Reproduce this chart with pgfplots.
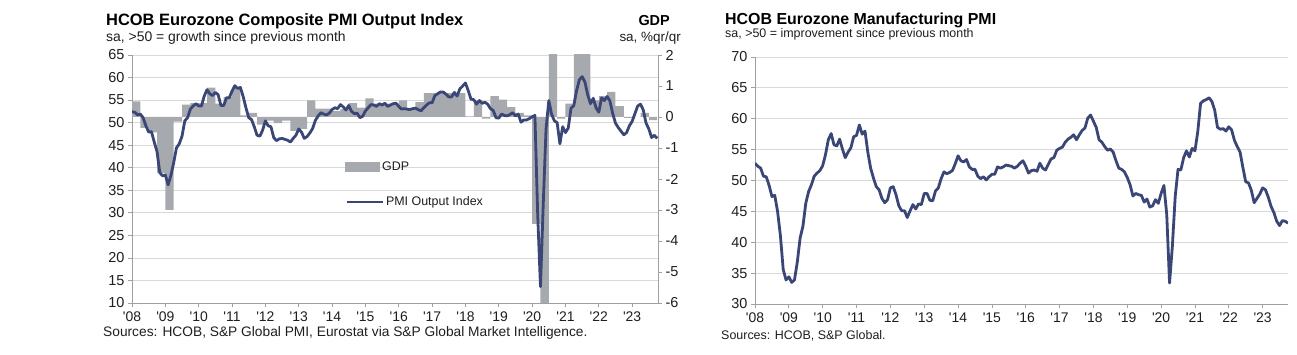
\documentclass[border=0pt]{standalone}
\usepackage{pgfplots}
\usepackage{pgfplotstable}
\pgfplotsset{compat=1.18}
\usepackage{fontspec}
\setmainfont{Liberation Sans}
\newcommand{\fs}[1]{\fontsize{#1}{#1}\selectfont}
\definecolor{pminavy}{RGB}{58,70,118}
\definecolor{gdpgray}{RGB}{166,169,173}
\definecolor{gridgray}{RGB}{217,217,217}
\definecolor{axgray}{RGB}{160,160,160}
\definecolor{labgray}{RGB}{30,30,30}

% Composite PMI Output Index, monthly Jan 2008 - Oct 2023
\pgfplotstableread[row sep=\\]{
v\\
52.4\\52.3\\51.7\\51.9\\51.1\\49.3\\47.9\\48.0\\45.7\\43.6\\38.9\\38.2\\
38.4\\36.2\\38.3\\41.1\\44.4\\45.3\\47.0\\50.4\\51.1\\53.0\\53.7\\54.2\\
53.7\\53.7\\55.9\\57.3\\56.4\\56.0\\56.7\\56.2\\53.8\\53.8\\55.5\\55.5\\
57.0\\58.2\\57.6\\57.8\\55.8\\53.3\\51.1\\50.7\\49.1\\47.2\\47.0\\48.3\\
50.4\\49.3\\49.1\\46.7\\46.0\\46.4\\46.5\\46.3\\46.1\\45.7\\46.5\\47.2\\
48.6\\47.9\\46.5\\46.9\\47.7\\48.7\\50.5\\51.5\\52.2\\51.9\\51.7\\52.1\\
52.9\\53.3\\53.1\\54.0\\53.5\\52.8\\53.8\\52.5\\52.0\\52.1\\51.1\\51.4\\
52.6\\53.3\\54.0\\53.9\\53.6\\54.2\\53.9\\54.3\\53.6\\53.9\\54.2\\54.3\\
53.6\\53.0\\53.1\\53.0\\52.9\\53.1\\53.2\\52.9\\52.6\\53.3\\53.9\\54.4\\
54.4\\56.0\\56.4\\56.8\\56.8\\56.3\\55.7\\55.7\\56.7\\55.9\\57.5\\58.1\\
58.8\\57.1\\55.2\\55.1\\54.1\\54.9\\54.3\\54.5\\54.1\\53.1\\52.7\\51.1\\
51.0\\51.9\\51.6\\51.5\\51.8\\52.2\\51.5\\51.9\\50.1\\50.6\\50.6\\50.9\\
51.3\\51.6\\29.7\\13.6\\31.9\\48.5\\54.9\\51.9\\50.4\\50.0\\45.3\\49.1\\
47.8\\48.8\\53.2\\53.8\\57.1\\59.5\\60.2\\59.0\\56.2\\54.2\\55.4\\53.3\\
52.3\\55.5\\54.9\\55.8\\54.8\\52.0\\49.9\\48.9\\48.1\\47.3\\47.8\\49.3\\
50.3\\52.0\\53.7\\54.1\\52.8\\49.9\\48.6\\46.7\\47.2\\46.5\\
}\comp

% GDP, %q/q, 2008Q1 - 2023Q3 (last row closes the final interval)
\pgfplotstableread[row sep=\\]{
v\\
0.50\\-0.35\\-0.50\\-1.80\\
-3.00\\-0.15\\0.40\\0.45\\
0.45\\0.95\\0.43\\0.65\\
0.95\\0.05\\0.13\\-0.25\\
-0.12\\-0.20\\-0.12\\-0.45\\
-0.38\\0.54\\0.27\\0.27\\
0.20\\0.25\\0.45\\0.30\\
0.60\\0.43\\0.43\\0.43\\
0.54\\0.27\\0.48\\0.77\\
0.77\\0.77\\0.77\\0.77\\
0.02\\0.54\\-0.05\\0.67\\
0.56\\0.32\\0.13\\0.05\\
-3.45\\-11.60\\12.50\\-0.05\\
0.43\\2.20\\2.20\\0.54\\
0.67\\0.81\\0.35\\-0.03\\
0.00\\0.13\\-0.10\\
0.00\\
}\gdp

% Manufacturing PMI, monthly Jan 2008 - Oct 2023
\pgfplotstableread[row sep=\\]{
v\\
52.8\\52.3\\52.0\\50.7\\50.6\\49.2\\47.4\\47.6\\45.0\\41.1\\35.6\\33.9\\
34.4\\33.5\\33.9\\36.8\\40.7\\42.6\\46.3\\48.2\\49.3\\50.7\\51.2\\51.6\\
52.4\\54.2\\56.6\\57.6\\55.8\\55.6\\56.7\\55.1\\53.7\\54.6\\55.3\\57.1\\
57.3\\59.0\\57.5\\58.0\\54.6\\52.0\\50.4\\49.0\\48.5\\47.1\\46.4\\46.9\\
48.8\\49.0\\47.7\\45.9\\45.1\\45.1\\44.0\\45.1\\46.1\\45.4\\46.2\\46.1\\
47.9\\47.9\\46.8\\46.7\\48.3\\48.8\\50.3\\51.4\\51.1\\51.3\\51.6\\52.7\\
54.0\\53.2\\53.0\\53.4\\52.2\\51.8\\51.8\\50.7\\50.3\\50.6\\50.1\\50.6\\
51.0\\51.0\\52.2\\52.0\\52.2\\52.5\\52.4\\52.3\\52.0\\52.3\\52.8\\53.2\\
52.3\\51.2\\51.6\\51.7\\51.5\\52.8\\52.0\\51.7\\52.6\\53.5\\53.7\\54.9\\
55.2\\55.4\\56.2\\56.7\\57.0\\57.4\\56.6\\57.4\\58.1\\58.5\\60.1\\60.6\\
59.6\\58.6\\56.6\\56.2\\55.5\\54.9\\55.1\\54.6\\53.2\\52.0\\51.8\\51.4\\
50.5\\49.3\\47.5\\47.9\\47.7\\47.6\\46.5\\47.0\\45.7\\45.9\\46.9\\46.3\\
47.9\\49.2\\44.5\\33.4\\39.4\\47.4\\51.8\\51.7\\53.7\\54.8\\53.8\\55.2\\
54.8\\57.9\\62.5\\62.9\\63.1\\63.4\\62.8\\61.4\\58.6\\58.3\\58.4\\58.0\\
58.7\\58.2\\56.5\\55.5\\54.6\\52.1\\49.8\\49.6\\48.4\\46.4\\47.1\\47.8\\
48.8\\48.5\\47.3\\45.8\\44.8\\43.4\\42.7\\43.5\\43.4\\43.1\\
}\mfg

\pgfplotsset{
  common/.style={
    scale only axis,
    xmin=0,
    xtick={0,12,...,180},
    xticklabels={\textquotesingle08,\textquotesingle09,\textquotesingle10,\textquotesingle11,\textquotesingle12,\textquotesingle13,\textquotesingle14,\textquotesingle15,\textquotesingle16,\textquotesingle17,\textquotesingle18,\textquotesingle19,\textquotesingle20,\textquotesingle21,\textquotesingle22,\textquotesingle23},
    tick align=outside,
    major tick length=4bp,
    axis line style={axgray, line width=0.75bp},
    tick style={axgray, line width=0.75bp},
    /pgf/number format/assume math mode=true,
    ticklabel style={text=labgray},
    grid style={gridgray, line width=0.75bp},
  },
}

\begin{document}
\begin{tikzpicture}
\path[use as bounding box] (0,0) rectangle (1297bp,355bp);

% ---------- left chart: frame, grid, PMI axis ----------
\begin{axis}[common, at={(132bp,52bp)}, anchor=south west,
  width=526bp, height=248bp, xmax=189.3,
  ymin=10, ymax=65, ytick={10,15,...,65}, ymajorgrids,
  axis x line*=bottom, axis y line*=left,
  x tick label style={font=\fs{14}, yshift=-1bp},
  y tick label style={font=\fs{14.5}}]
\addplot[draw=none] coordinates {(0,50)};
\end{axis}

% ---------- left chart: GDP bars, right axis ----------
\begin{axis}[common, at={(132bp,52bp)}, anchor=south west,
  width=526bp, height=248bp, xmax=189.3,
  ymin=-6, ymax=2, ytick={-6,-5,...,2},
  axis y line*=right, axis x line=none,
  y tick label style={font=\fs{14.5}},
  legend style={at={(0.405,0.548)}, anchor=west, draw=none, fill=none,
    font=\fs{12.5}, text=labgray, inner sep=0pt},
  legend image code/.code={\fill[gdpgray] (0bp,-5bp) rectangle (35bp,5bp);}]
\addplot[ybar interval, fill=gdpgray, draw=none] table[x expr=3*\coordindex, y=v] {\gdp};
\addlegendentry{GDP}
\end{axis}

% ---------- left chart: PMI line ----------
\begin{axis}[common, at={(132bp,52bp)}, anchor=south west,
  width=526bp, height=248bp, xmax=189.3,
  ymin=10, ymax=65, hide axis,
  legend style={at={(0.405,0.407)}, anchor=west, draw=none, fill=none,
    font=\fs{12.5}, text=labgray, inner sep=0pt},
  legend image code/.code={\draw[pminavy, line width=2.8bp] (0bp,0bp) -- (36bp,0bp);}]
\addplot[pminavy, line width=2.8bp, line join=round] table[x expr=\coordindex, y=v] {\comp};
\addlegendentry{PMI Output Index}
\end{axis}

% ---------- right chart ----------
\begin{axis}[common, at={(755bp,51bp)}, anchor=south west,
  width=533bp, height=247bp, xmax=189,
  ymin=30, ymax=70, ytick={30,35,...,70}, ymajorgrids,
  axis x line*=bottom, axis y line*=left,
  x tick label style={font=\fs{14}, yshift=-1bp},
  y tick label style={font=\fs{14.5}}]
\addplot[pminavy, line width=2.8bp, line join=round] table[x expr=\coordindex, y=v] {\mfg};
\end{axis}

% ---------- texts ----------
\node[anchor=base west, font=\bfseries\fs{16.5}, inner sep=0pt] at (106bp,329bp) {HCOB Eurozone Composite PMI Output Index};
\node[anchor=base west, font=\fs{14}, text=labgray, inner sep=0pt] at (106bp,313.5bp) {sa, >50 = growth since previous month};
\node[anchor=base east, font=\bfseries\fs{14.5}, inner sep=0pt] at (670bp,329bp) {GDP};
\node[anchor=base east, font=\fs{13.5}, text=labgray, inner sep=0pt] at (681bp,313.5bp) {sa, \%qr/qr};
\node[anchor=base west, font=\fs{13.8}, text=labgray, inner sep=0pt] at (103bp,18.5bp) {Sources: HCOB, S\&P Global PMI, Eurostat via S\&P Global Market Intelligence.};
\node[anchor=base west, font=\bfseries\fs{16}, inner sep=0pt] at (725bp,330bp) {HCOB Eurozone Manufacturing PMI};
\node[anchor=base west, font=\fs{12.5}, text=labgray, inner sep=0pt] at (725bp,317.5bp) {sa, >50 = improvement since previous month};
\node[anchor=base west, font=\fs{12.5}, text=labgray, inner sep=0pt] at (721bp,15.5bp) {Sources: HCOB, S\&P Global.};
\end{tikzpicture}
\end{document}
